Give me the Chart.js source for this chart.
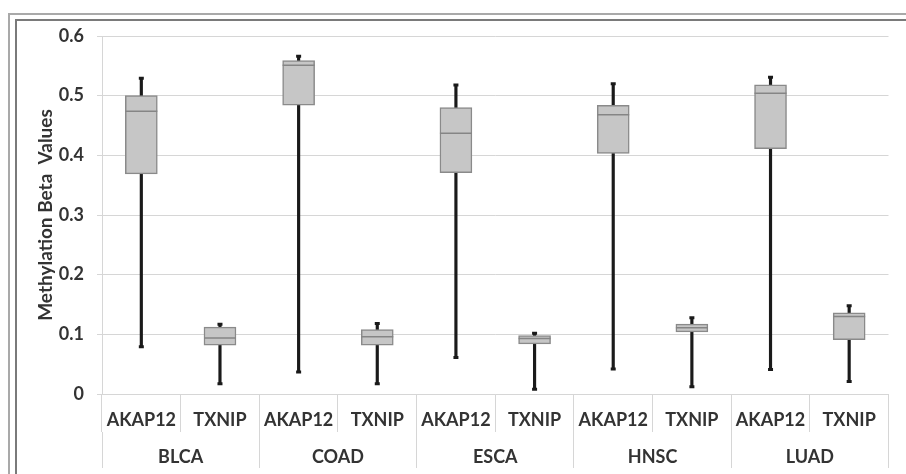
<!DOCTYPE html>
<html>
<head>
<meta charset="utf-8">
<script src="https://cdn.jsdelivr.net/npm/chart.js@4.4.1/dist/chart.umd.min.js"></script>
<style>
    html, body { margin: 0; padding: 0; background: #ffffff; }
    #wrap { position: relative; width: 906px; height: 474px; overflow: hidden; }
    #chart { position: absolute; left: 0; top: 0; }
    .frame { position: absolute; right: -10px; bottom: -10px; pointer-events: none; }
    .outer { left: 8px; top: 13px; border-top: 2px solid #a9a9a9; border-left: 2px solid #a9a9a9; }
    .inner { left: 15px; top: 19px; border-top: 2px solid #7a7a7a; border-left: 2px solid #7a7a7a; }
</style>
</head>
<body>
<div id="wrap">
    <canvas id="chart" width="906" height="474"></canvas>
    <div class="frame outer"></div>
    <div class="frame inner"></div>
</div>
<script>
// Genes inside each tumour type, and the tumour groups
const genes = ['AKAP12', 'TXNIP', 'AKAP12', 'TXNIP', 'AKAP12', 'TXNIP', 'AKAP12', 'TXNIP', 'AKAP12', 'TXNIP'];
const groups = ['BLCA', 'COAD', 'ESCA', 'HNSC', 'LUAD'];

// Box plot statistics, one entry per gene column
const minVals    = [0.079, 0.017, 0.037, 0.017, 0.061, 0.008, 0.042, 0.012, 0.041, 0.021];
const q1Vals     = [0.369, 0.082, 0.484, 0.082, 0.371, 0.084, 0.403, 0.104, 0.411, 0.091];
const medianVals = [0.474, 0.094, 0.551, 0.096, 0.437, 0.093, 0.468, 0.111, 0.504, 0.130];
const q3Vals     = [0.500, 0.112, 0.559, 0.108, 0.480, 0.098, 0.484, 0.117, 0.518, 0.136];
const maxVals    = [0.529, 0.117, 0.566, 0.118, 0.518, 0.102, 0.520, 0.128, 0.531, 0.148];

const yTicks = [0, 0.1, 0.2, 0.3, 0.4, 0.5, 0.6];

const FONT = 'Lato, "Open Sans", sans-serif';
const TEXT = '#333333';
const GRID = '#d6d6d6';

const whiskers = minVals.map((v, i) => [v, maxVals[i]]);
const boxes = q1Vals.map((v, i) => [v, q3Vals[i]]);

new Chart(document.getElementById('chart'), {
    type: 'bar',
    data: {
        labels: genes,
        datasets: [
            {
                label: 'whisker', data: whiskers, order: 3, grouped: false,
                barThickness: 2.5, backgroundColor: '#1a1a1a', borderWidth: 0
            },
            {
                label: 'box', data: boxes, order: 2, grouped: false,
                barThickness: 32, backgroundColor: '#c6c6c6',
                borderColor: '#8a8a8a', borderWidth: 1.5, borderSkipped: false
            },
            {
                type: 'line', label: 'median', data: medianVals, order: 1,
                showLine: false, pointStyle: 'line', pointRadius: 16,
                pointBorderColor: '#858585', pointBorderWidth: 1.5
            },
            {
                type: 'line', label: 'max', data: maxVals, order: 1,
                showLine: false, pointStyle: 'line', pointRadius: 2.5,
                pointBorderColor: '#1a1a1a', pointBorderWidth: 3
            },
            {
                type: 'line', label: 'min', data: minVals, order: 1,
                showLine: false, pointStyle: 'line', pointRadius: 2.5,
                pointBorderColor: '#1a1a1a', pointBorderWidth: 3
            }
        ]
    },
    options: {
        responsive: false,
        animation: false,
        layout: { padding: { left: 20, right: 4, top: 36, bottom: 6 } },
        plugins: { legend: { display: false }, tooltip: { enabled: false } },
        scales: {
            x: {
                type: 'category', position: 'bottom', offset: true, weight: 0,
                grid: { offset: true, drawOnChartArea: false, tickLength: 38, color: GRID },
                border: { color: GRID },
                ticks: { padding: -23, color: TEXT, font: { family: FONT, size: 18, weight: 'bold' }, maxRotation: 0 },
                afterFit: s => { s.height = 38; }
            },
            x2: {
                type: 'category', position: 'bottom', offset: true, weight: 1,
                labels: groups,
                grid: { offset: true, drawOnChartArea: false, tickLength: 36, color: GRID },
                border: { display: false },
                ticks: { padding: -22, color: TEXT, font: { family: FONT, size: 18, weight: 'bold' }, maxRotation: 0 },
                afterFit: s => { s.height = 36; }
            },
            y: {
                min: 0, max: 0.6,
                afterBuildTicks: s => { s.ticks = yTicks.map(v => ({ value: v })); },
                grid: { color: GRID, tickLength: 5 },
                border: { color: GRID },
                ticks: {
                    padding: 13, color: TEXT,
                    font: { family: FONT, size: 18, weight: 'bold' },
                    callback: v => String(Math.round(v * 10) / 10)
                },
                title: {
                    display: true, text: 'Methylation Beta  Values', color: TEXT,
                    font: { family: FONT, size: 19, weight: 'bold' },
                    padding: { top: 14, bottom: 0 }
                },
                afterFit: s => { s.width = 82; }
            }
        }
    }
});
</script>
</body>
</html>
